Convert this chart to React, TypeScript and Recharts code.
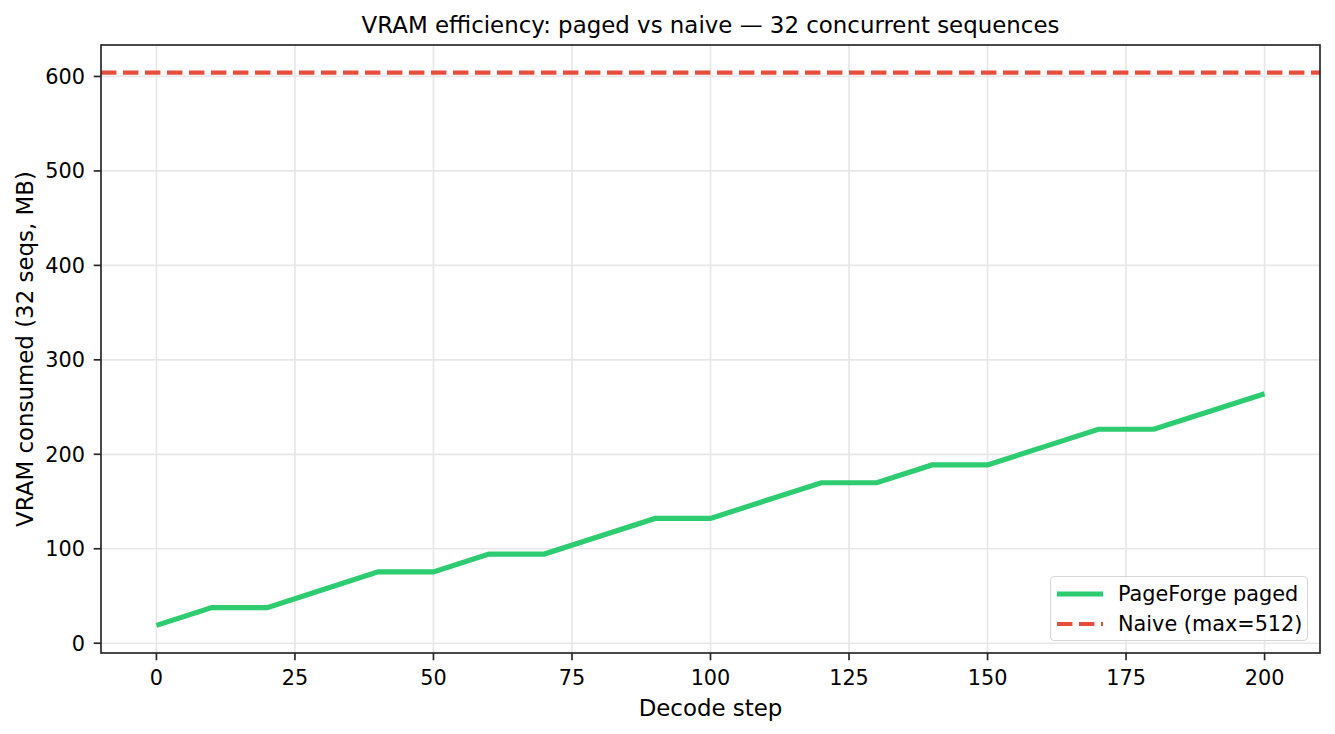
import React from "react";
import {
  LineChart,
  Line,
  XAxis,
  YAxis,
  CartesianGrid,
  ReferenceLine,
} from "recharts";

// decode step vs VRAM (MB) for 32 concurrent sequences
const STEPS = [0, 10, 20, 30, 40, 50, 60, 70, 80, 90, 100, 110, 120, 130, 140, 150, 160, 170, 180, 190, 200];
const PAGED_MB = [
  18.9, 37.7, 37.7, 56.6, 75.5, 75.5, 94.4, 94.4, 113.2, 132.1, 132.1,
  151.0, 169.9, 169.9, 188.7, 188.7, 207.6, 226.5, 226.5, 245.4, 264.2,
];
const NAIVE_MB = 604;
const X_TICKS = [0, 25, 50, 75, 100, 125, 150, 175, 200];
const Y_TICKS = [0, 100, 200, 300, 400, 500, 600];

const TITLE = "VRAM efficiency: paged vs naive — 32 concurrent sequences";
const X_LABEL = "Decode step";
const Y_LABEL = "VRAM consumed (32 seqs, MB)";
const LEGEND = [
  { name: "PageForge paged", color: "#2ecc71", dashed: false },
  { name: "Naive (max=512)", color: "#e74c3c", dashed: true },
];

const FONT = "'DejaVu Sans', sans-serif";
const W = 1335;
const H = 734;
const PLOT = { left: 101, top: 45, right: 1320, bottom: 653 };
const Y_AXIS_W = 60;
const X_AXIS_H = 40;

const data = STEPS.map((step, i) => ({ step, paged: PAGED_MB[i] }));

const tickStyle = { fill: "#000", fontSize: 20.8, fontFamily: FONT };
const tickLine = { stroke: "#262626", strokeWidth: 1.67 };

export default function App() {
  const midX = (PLOT.left + PLOT.right) / 2;
  const midY = (PLOT.top + PLOT.bottom) / 2;

  return (
    <div
      style={{
        position: "absolute",
        left: 0,
        top: 0,
        width: W,
        height: H,
        background: "#fff",
        fontFamily: FONT,
      }}
    >
      <LineChart
        width={W}
        height={H}
        data={data}
        margin={{
          top: PLOT.top,
          right: W - PLOT.right,
          bottom: H - PLOT.bottom - X_AXIS_H,
          left: PLOT.left - Y_AXIS_W,
        }}
      >
        <CartesianGrid
          stroke="#e7e7e7"
          strokeWidth={1.67}
          verticalValues={X_TICKS}
          horizontalValues={Y_TICKS}
        />
        <XAxis
          type="number"
          dataKey="step"
          domain={[-10, 210]}
          ticks={X_TICKS}
          interval={0}
          allowDataOverflow
          height={X_AXIS_H}
          axisLine={false}
          tickLine={tickLine}
          tickSize={7.3}
          tickMargin={9.7}
          tick={tickStyle}
        />
        <YAxis
          type="number"
          domain={[-10.36, 633.3]}
          ticks={Y_TICKS}
          interval={0}
          allowDataOverflow
          width={Y_AXIS_W}
          axisLine={false}
          tickLine={tickLine}
          tickSize={7.3}
          tickMargin={8.7}
          tick={tickStyle}
        />
        <ReferenceLine
          y={NAIVE_MB}
          stroke="#e74c3c"
          strokeWidth={4.2}
          strokeDasharray="15.4 6.6"
        />
        <Line
          type="linear"
          dataKey="paged"
          stroke="#2ecc71"
          strokeWidth={5.2}
          dot={false}
          isAnimationActive={false}
        />
      </LineChart>

      {/* frame, title, axis labels */}
      <svg
        width={W}
        height={H}
        style={{ position: "absolute", left: 0, top: 0, pointerEvents: "none" }}
      >
        <rect
          x={PLOT.left}
          y={PLOT.top}
          width={PLOT.right - PLOT.left}
          height={PLOT.bottom - PLOT.top}
          fill="none"
          stroke="#262626"
          strokeWidth={1.67}
        />
        <text x={midX} y={33} textAnchor="middle" fontSize={22.9} fontFamily={FONT} fill="#000">
          {TITLE}
        </text>
        <text x={midX} y={715.5} textAnchor="middle" fontSize={22.9} fontFamily={FONT} fill="#000">
          {X_LABEL}
        </text>
        <text
          x={0}
          y={0}
          transform={`translate(33 ${midY}) rotate(-90)`}
          textAnchor="middle"
          fontSize={22.9}
          fontFamily={FONT}
          fill="#000"
        >
          {Y_LABEL}
        </text>
      </svg>

      {/* legend */}
      <div
        style={{
          position: "absolute",
          left: 1050,
          top: 576,
          width: 256,
          height: 63,
          border: "1.5px solid #d6d6d6",
          borderRadius: 4,
          background: "rgba(255,255,255,0.8)",
        }}
      >
        {LEGEND.map((item, i) => (
          <div
            key={item.name}
            style={{
              position: "absolute",
              left: 6,
              top: 3 + i * 30,
              height: 28,
              display: "flex",
              alignItems: "center",
              whiteSpace: "nowrap",
            }}
          >
            <svg width={47} height={10} style={{ marginRight: 14 }}>
              <line
                x1={0}
                y1={5}
                x2={46}
                y2={5}
                stroke={item.color}
                strokeWidth={item.dashed ? 4.2 : 5.2}
                strokeDasharray={item.dashed ? "15.4 6.6" : undefined}
              />
            </svg>
            <span style={{ fontSize: 20.8, color: "#000", lineHeight: "28px" }}>
              {item.name}
            </span>
          </div>
        ))}
      </div>
    </div>
  );
}
